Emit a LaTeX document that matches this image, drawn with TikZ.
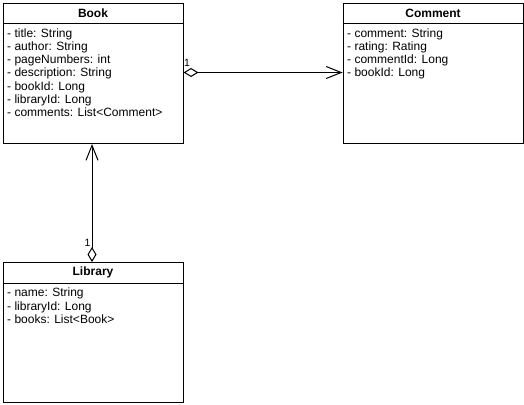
\documentclass[tikz,border=0pt]{standalone}
\usepackage{fontspec}
\setmainfont{Liberation Sans}
\usetikzlibrary{arrows.meta}
\begin{document}
\begin{tikzpicture}[x=1pt,y=-1pt,
  classbox/.style={draw=black, line width=1pt, fill=white, minimum width=180pt, minimum height=140pt, anchor=north west, inner sep=0pt},
  classtitle/.style={font=\fontsize{12}{13}\selectfont\bfseries, inner sep=0pt},
  attrs/.style={font=\fontsize{12}{13.2}\selectfont, align=left, anchor=north west, inner sep=0pt},
  mult/.style={font=\fontsize{10.5}{11}\selectfont, inner sep=0pt},
  assoc/.style={line width=1pt, {Diamond[open, length=15pt, width=9pt, line width=1pt]}-{Straight Barb[length=15pt, width=12pt, line width=1pt]}}
]
\useasboundingbox (0,0) rectangle (524,404);
% Book
\node[classbox] (book) at (2.5,3) {};
\node[classtitle] (booktitle) at ([yshift=-10.5pt]book.north) {Book};
\draw[line width=1pt] ([yshift=-21pt]book.north west) -- ([yshift=-21pt]book.north east);
\node[attrs] (bookattrs) at (7,28.5) {- title: String\\- author: String\\- pageNumbers: int\\- description: String\\- bookId: Long\\- libraryId: Long\\- comments: List<Comment>};
% Comment
\node[classbox] (comment) at (342.5,3) {};
\node[classtitle] (commenttitle) at ([yshift=-10.5pt]comment.north) {Comment};
\draw[line width=1pt] ([yshift=-21pt]comment.north west) -- ([yshift=-21pt]comment.north east);
\node[attrs] (commentattrs) at (347,28.5) {- comment: String\\- rating: Rating\\- commentId: Long\\- bookId: Long};
% Library
\node[classbox] (library) at (2.5,262) {};
\node[classtitle] (librarytitle) at ([yshift=-10.5pt]library.north) {Library};
\draw[line width=1pt] ([yshift=-21pt]library.north west) -- ([yshift=-21pt]library.north east);
\node[attrs] (libraryattrs) at (7,288) {- name: String\\- libraryId: Long\\- books: List<Book>};
% connectors
\coordinate (bookR) at (book.east |- 0,72.5);
\coordinate (commentL) at (comment.west |- 0,72.5);
\draw[assoc] (bookR) -- (commentL);
\node[mult] (m1) at (187,63) {1};
\coordinate (libT) at (92,262);
\coordinate (bookB) at (92,143);
\draw[assoc] (library.north -| libT) -- (book.south -| bookB);
\node[mult] (m2) at (87.5,243) {1};
\end{tikzpicture}
\end{document}
